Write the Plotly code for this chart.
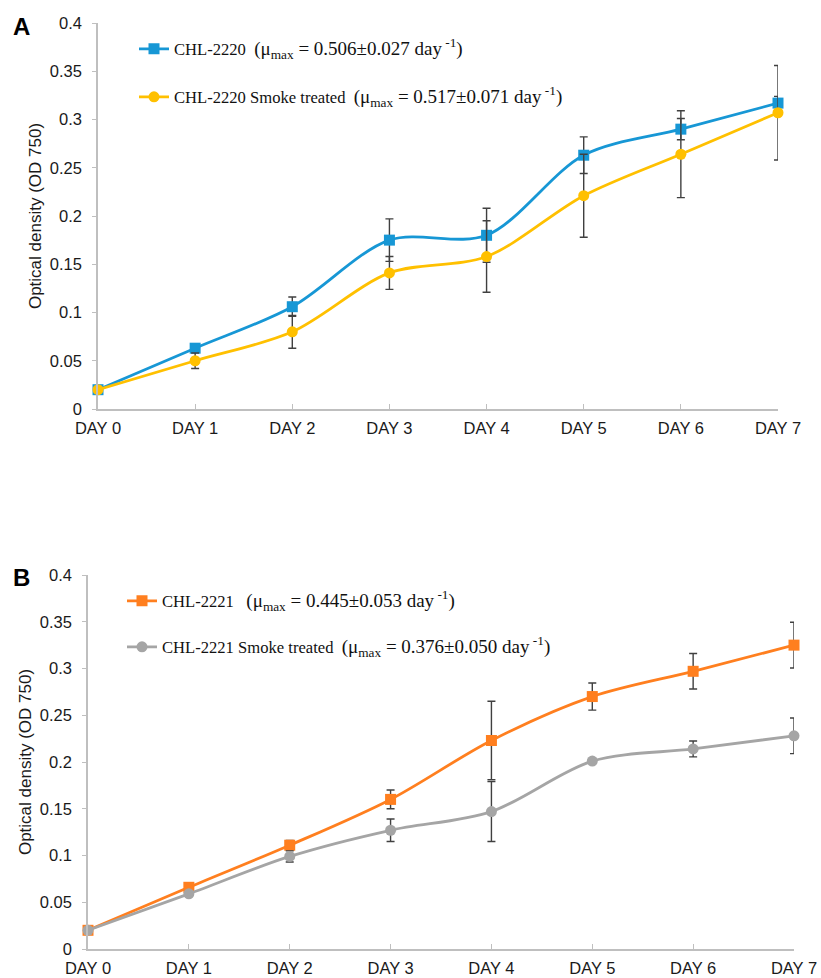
import plotly.graph_objects as go

W, H = 821, 978

days = ["DAY 0", "DAY 1", "DAY 2", "DAY 3", "DAY 4", "DAY 5", "DAY 6", "DAY 7"]

a_ctrl = [0.020, 0.063, 0.106, 0.175, 0.180, 0.263, 0.290, 0.317]
a_ctrl_err = [0.0, 0.003, 0.010, 0.022, 0.028, 0.019, 0.011, 0.007]
a_smoke = [0.020, 0.050, 0.080, 0.141, 0.158, 0.221, 0.264, 0.307]
a_smoke_err = [0.0, 0.008, 0.017, 0.017, 0.037, 0.043, 0.045, 0.049]

b_ctrl = [0.020, 0.066, 0.111, 0.160, 0.223, 0.270, 0.297, 0.325]
b_ctrl_err = [0.0, 0.002, 0.005, 0.010, 0.042, 0.0145, 0.019, 0.0245]
b_smoke = [0.020, 0.059, 0.099, 0.127, 0.147, 0.201, 0.214, 0.228]
b_smoke_err = [0.0, 0.002, 0.006, 0.012, 0.032, 0.002, 0.0085, 0.019]

NB = "\u00a0"


def mu(text):
    return ("<span style='font-size:19px'>(μ<sub>max</sub> = " + text +
            " day<sup> -1</sup>)</span>")


names = [
    "CHL-2220" + NB * 2 + mu("0.506±0.027"),
    "CHL-2220 Smoke treated" + NB * 2 + mu("0.517±0.071"),
    "CHL-2221" + NB * 3 + mu("0.445±0.053"),
    "CHL-2221 Smoke treated" + NB * 2 + mu("0.376±0.050"),
]
colors = ["#1797D5", "#FFC000", "#FF7F1F", "#A5A5A5"]

ERR_COLOR = "#404040"


def trace(y, err, name, color, symbol, xa, ya, legend):
    return go.Scatter(
        x=days, y=y, name=name, mode="lines+markers",
        xaxis=xa, yaxis=ya, legend=legend, cliponaxis=False,
        line=dict(color=color, width=2.8, shape="spline", smoothing=0.9),
        marker=dict(symbol=symbol, size=11, color=color),
        error_y=dict(type="data", array=err, visible=True,
                     color=ERR_COLOR, thickness=1.4, width=4),
    )


fig = go.Figure()
fig.add_trace(trace(a_ctrl, a_ctrl_err, names[0], colors[0], "square", "x", "y", "legend"))
fig.add_trace(trace(a_smoke, a_smoke_err, names[1], colors[1], "circle", "x", "y", "legend2"))
fig.add_trace(trace(b_ctrl, b_ctrl_err, names[2], colors[2], "square", "x2", "y2", "legend3"))
fig.add_trace(trace(b_smoke, b_smoke_err, names[3], colors[3], "circle", "x2", "y2", "legend4"))

AX = "#BFBFBF"
tickfont = dict(family="Liberation Sans, Arial", size=16.5, color="#1a1a1a")


def xaxis(domain, anchor):
    return dict(domain=domain, anchor=anchor, type="category", range=[0, 7],
                showline=True, linecolor=AX, linewidth=1.5, ticks="inside",
                ticklen=5, tickcolor=AX, tickwidth=1.2, tickfont=tickfont,
                showgrid=False, zeroline=False, automargin=False,
                ticklabelstandoff=3)


def yaxis(domain, anchor):
    return dict(domain=domain, anchor=anchor, range=[0, 0.4], dtick=0.05, tick0=0,
                showline=True, linecolor=AX, linewidth=1.5, ticks="outside",
                ticklen=4, tickcolor=AX, tickwidth=1.2, tickfont=tickfont,
                showgrid=False, zeroline=False, automargin=False,
                ticklabelstandoff=7,
                title=dict(text="Optical density (OD 750)",
                           font=dict(family="Liberation Sans, Arial", size=17, color="#1a1a1a"),
                           standoff=4))


def leg(xpx, ypx, size):
    return dict(x=xpx / W, y=1 - ypx / H, xanchor="left", yanchor="middle",
                xref="paper", yref="paper", bgcolor="rgba(0,0,0,0)",
                font=dict(family="Liberation Serif, Times New Roman", size=size, color="#111"))


fig.update_layout(
    width=W, height=H, margin=dict(l=0, r=0, t=0, b=0),
    paper_bgcolor="white", plot_bgcolor="white", showlegend=True,
    xaxis=xaxis([98 / W, 778 / W], "y"),
    yaxis=yaxis([1 - 409 / H, 1 - 23 / H], "x"),
    xaxis2=xaxis([88 / W, 794 / W], "y2"),
    yaxis2=yaxis([1 - 949 / H, 1 - 575 / H], "x2"),
    legend=leg(134, 49, 16.6),
    legend2=leg(134, 97, 16.6),
    legend3=leg(122, 601, 16.6),
    legend4=leg(122, 647, 16.6),
    annotations=[
        dict(text="<b>A</b>", x=11 / W, y=1 - 27 / H, xref="paper", yref="paper",
             xanchor="left", yanchor="middle", showarrow=False,
             font=dict(family="Liberation Sans, Arial", size=24, color="black")),
        dict(text="<b>B</b>", x=11 / W, y=1 - 577 / H, xref="paper", yref="paper",
             xanchor="left", yanchor="middle", showarrow=False,
             font=dict(family="Liberation Sans, Arial", size=24, color="black")),
    ],
)

fig.write_html("out.html",
               config={"displayModeBar": False},
               post_script="document.body.style.margin='0';document.body.style.padding='0';")
